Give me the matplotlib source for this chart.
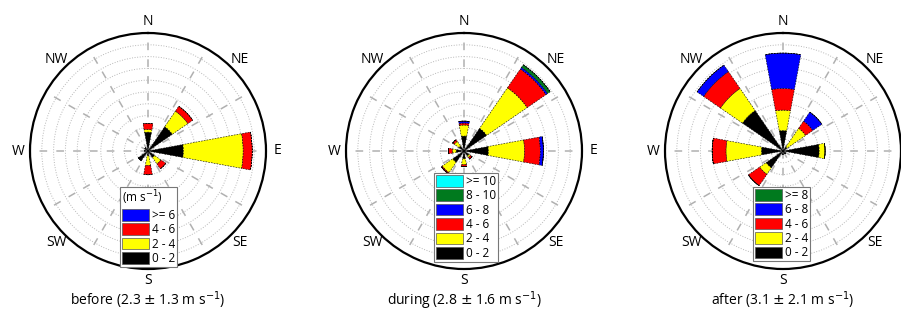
import numpy as np
import matplotlib
matplotlib.use("Agg")
import matplotlib.pyplot as plt
from matplotlib.patches import Patch

plt.rcParams['font.family'] = ['Open Sans', 'DejaVu Sans']

# -----------------------------
# Data: frequency (%) per direction and speed bin
# -----------------------------
directions = ['N', 'NE', 'E', 'SE', 'S', 'SW', 'W', 'NW']
dir_angles = [0, 45, 90, 135, 180, 225, 270, 315]

# before: bins 0-2, 2-4, 4-6, >=6
before_bins = ['0 - 2', '2 - 4', '4 - 6', '>= 6']
before_colors = ['#000000', '#ffff00', '#ff0000', '#0000ff']
before_freq = [
    [4.8, 0.7, 1.5, 0.0],   # N
    [7.5, 4.8, 1.5, 0.0],   # NE
    [9.0, 15.2, 2.3, 0.0],  # E
    [2.0, 2.0, 1.5, 0.0],   # SE
    [1.2, 2.5, 2.3, 0.0],   # S
    [3.0, 0.0, 0.0, 0.0],   # SW
    [0.8, 0.0, 0.0, 0.0],   # W
    [1.0, 0.0, 0.0, 0.0],   # NW
]

# during: bins 0-2 ... >=10
during_bins = ['0 - 2', '2 - 4', '4 - 6', '6 - 8', '8 - 10', '>= 10']
during_colors = ['#000000', '#ffff00', '#ff0000', '#0000ff', '#007a1e', '#00ffff']
during_freq = [
    [3.8, 2.8, 0.5, 0.5, 0.0, 0.0],   # N
    [7.0, 12.5, 5.8, 0.5, 0.8, 0.0],  # NE
    [6.2, 9.2, 4.0, 0.8, 0.0, 0.0],   # E
    [1.5, 0.5, 0.5, 0.0, 0.0, 0.0],   # SE
    [2.0, 1.5, 0.5, 0.0, 0.0, 0.0],   # S
    [3.5, 3.2, 0.3, 0.0, 0.0, 0.0],   # SW
    [2.0, 1.0, 1.0, 0.0, 0.0, 0.0],   # W
    [1.5, 1.5, 0.5, 0.0, 0.0, 0.0],   # NW
]

# after: bins 0-2 ... >=8
after_bins = ['0 - 2', '2 - 4', '4 - 6', '6 - 8', '>= 8']
after_colors = ['#000000', '#ffff00', '#ff0000', '#0000ff', '#007a1e']
after_freq = [
    [5.2, 5.2, 5.5, 9.0, 0.0],   # N
    [1.2, 5.8, 2.2, 2.8, 0.0],   # NE
    [9.2, 1.5, 0.0, 0.0, 0.0],   # E
    [0.8, 0.0, 0.0, 0.0, 0.0],   # SE
    [0.8, 0.0, 0.0, 0.0, 0.0],   # S
    [5.2, 2.0, 3.5, 0.0, 0.0],   # SW
    [5.5, 9.0, 3.5, 0.0, 0.0],   # W
    [12.5, 6.8, 5.2, 2.0, 0.0],  # NW
]

titles = ['before (2.3 $\\pm$ 1.3 m s$^{-1}$)',
          'during (2.8 $\\pm$ 1.6 m s$^{-1}$)',
          'after (3.1 $\\pm$ 2.1 m s$^{-1}$)']

rmax = 30
W, H = 901, 311

# panel centres / radius in pixels
centers = [(148, 151), (464, 151), (783, 151)]
radius = 118
legend_pos = [(120, 187), (434, 173), (753, 187)]

fig = plt.figure(figsize=(W / 100, H / 100), dpi=100)

panels = [(before_freq, before_bins, before_colors, '(m s$^{-1}$)'),
          (during_freq, during_bins, during_colors, None),
          (after_freq, after_bins, after_colors, None)]

for i, (freq, bins, colors, ltitle) in enumerate(panels):
    cx, cy = centers[i]
    ax = fig.add_axes([(cx - radius) / W, (H - cy - radius) / H,
                       2 * radius / W, 2 * radius / H], projection='polar')
    ax.set_theta_zero_location('N')
    ax.set_theta_direction(-1)
    ax.set_ylim(0, rmax)

    freq = np.array(freq)
    theta = np.deg2rad(dir_angles)
    bottom = np.zeros(len(dir_angles))
    for b in range(freq.shape[1]):
        vals = freq[:, b]
        ax.bar(theta, vals, width=np.deg2rad(21), bottom=bottom,
               color=colors[b], edgecolor='k', linewidth=0.4,
               linestyle=(0, (3, 2)), zorder=3)
        bottom += vals

    # grid
    ax.set_rticks(np.arange(3, rmax, 3))
    ax.set_yticklabels([])
    ax.yaxis.grid(True, color='#b8b8b8', linestyle=':', linewidth=0.7)
    ax.set_xticks(np.deg2rad(np.arange(0, 360, 30)))
    ax.set_xticklabels([])
    ax.xaxis.grid(True, color='#b0b0b0', linestyle=(0, (5, 6)), linewidth=1.1)
    ax.set_xticks(np.deg2rad(np.arange(0, 360, 22.5)), minor=True)
    ax.tick_params(axis='x', which='major', length=0)
    ax.tick_params(axis='x', which='minor', direction='in', length=4,
                   width=1, color='k')
    ax.set_axisbelow(True)
    ax.spines['polar'].set_linewidth(1.6)

    for lab, ang in zip(directions, dir_angles):
        ax.text(np.deg2rad(ang), rmax * 1.10, lab, ha='center', va='center',
                fontsize=10, clip_on=False)

    fig.text(cx / W, 6 / H, titles[i], ha='center', va='baseline',
             fontsize=10)

    handles = [Patch(facecolor=c, edgecolor='#555555', linewidth=0.5)
               for c in colors[::-1]]
    lx, ly = legend_pos[i]
    leg = ax.legend(handles, bins[::-1], loc='upper left',
                    bbox_to_anchor=(lx / W, 1 - ly / H),
                    bbox_transform=fig.transFigure, fontsize=8.5,
                    title=ltitle, title_fontsize=8.5, alignment='left',
                    handlelength=2.3, handleheight=1.15, labelspacing=0.12,
                    handletextpad=0.3, borderpad=0.15, borderaxespad=0,
                    fancybox=False, framealpha=1, edgecolor='#777777')
    leg.get_frame().set_linewidth(0.8)
    leg.set_zorder(10)

fig.savefig('out.png', dpi=100)
